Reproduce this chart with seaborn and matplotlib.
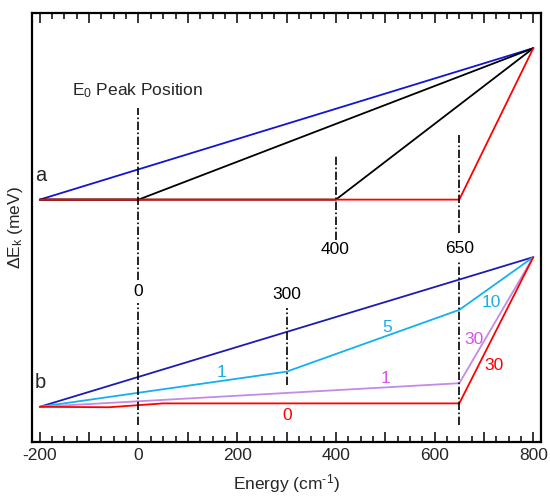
import matplotlib
matplotlib.use("Agg")
import matplotlib.pyplot as plt
import matplotlib.ticker as mticker
import seaborn as sns

# panel a: relative energy positions (arbitrary units)
a_blue_x = [-200, 800]
a_blue_y = [56.5, 91.8]
a_black1_x = [-200, 0, 800]
a_black1_y = [56.5, 56.5, 91.8]
a_black2_x = [-200, 400, 800]
a_black2_y = [56.5, 56.5, 91.8]
a_red_x = [-200, 650, 800]
a_red_y = [56.5, 56.5, 91.8]

# panel b
b_blue_x = [-200, 800]
b_blue_y = [8.2, 43.1]
b_cyan_x = [-200, 300, 650, 800]
b_cyan_y = [8.2, 16.4, 30.8, 43.1]
b_purple_x = [-200, 650, 800]
b_purple_y = [8.2, 13.7, 43.1]
b_red_x = [-200, -60, 50, 650, 800]
b_red_y = [8.2, 8.1, 9.0, 9.0, 43.1]

# vertical dash-dot markers: (x, y_start, y_end)
markers = [
    (0, 37.8, 77.9), (0, 4.0, 32.4),
    (300, 13.3, 31.2),
    (400, 47.1, 66.9),
    (650, 48.7, 71.6), (650, 4.0, 42.0),
]

# labels: (x, y, text, color)
labels = [
    (0, 35.0, "0", "black"), (300, 34.3, "300", "black"),
    (398, 44.8, "400", "black"), (650, 45.0, "650", "black"),
    (169, 16.3, "1", "#1aaee8"), (504, 26.8, "5", "#1aaee8"),
    (714, 32.6, "10", "#1aaee8"),
    (680, 23.8, "30", "#d455e6"), (500, 14.9, "1", "#d455e6"),
    (302, 6.1, "0", "#ff0000"), (720, 17.9, "30", "#ff0000"),
]
panel_labels = [(-198, 62.2, "a"), (-198, 13.8, "b")]

sns.set_style("white")
plt.rcParams["font.family"] = ["Liberation Sans", "DejaVu Sans"]
plt.rcParams["mathtext.fontset"] = "custom"
plt.rcParams["mathtext.rm"] = "Liberation Sans"
plt.rcParams["mathtext.it"] = "Liberation Sans"

fig = plt.figure(figsize=(5.5, 5), dpi=100)
ax = fig.add_axes([0.058, 0.116, 0.926, 0.858])

lw = 1.3
series = [
    (a_blue_x, a_blue_y, "#1414d2"),
    (a_black1_x, a_black1_y, "black"),
    (a_black2_x, a_black2_y, "black"),
    (a_red_x, a_red_y, "#ff0000"),
    (b_blue_x, b_blue_y, "#1c1cb4"),
    (b_cyan_x, b_cyan_y, "#14b0f0"),
    (b_purple_x, b_purple_y, "#c38ae6"),
    (b_red_x, b_red_y, "#ff0000"),
]
for xs, ys, c in series:
    sns.lineplot(x=xs, y=ys, color=c, lw=lw, sort=False, estimator=None, ax=ax)

for x, y0, y1 in markers:
    ax.plot([x, x], [y0, y1], color="black", lw=1.2, dashes=(5, 1.5, 1, 1.5))

for x, y, t, c in labels:
    ax.text(x, y, t, color=c, fontsize=12.5, ha="center", va="center")
for x, y, t in panel_labels:
    ax.text(x, y, t, fontsize=14.5, ha="center", va="center")

ax.text(-135, 82.0, r"E$_0$ Peak Position", fontsize=12.5, ha="left", va="center")

ax.set_xlim(-216, 816)
ax.set_ylim(0, 100)
ax.xaxis.set_major_locator(mticker.MultipleLocator(100))
ax.xaxis.set_minor_locator(mticker.MultipleLocator(25))
ax.xaxis.set_major_formatter(mticker.FuncFormatter(
    lambda v, p: f"{int(v)}" if int(round(v)) % 200 == 0 else ""))
ax.tick_params(axis="x", which="both", direction="in", top=True, bottom=True,
               labelsize=12.5, width=1.3, pad=4)
ax.tick_params(axis="x", which="major", length=7)
ax.tick_params(axis="x", which="minor", length=4)
ax.set_yticks([])
for s in ax.spines.values():
    s.set_linewidth(1.6)
    s.set_color("black")

ax.set_xlabel(r"Energy (cm$^{\text{-1}}$)", fontsize=12.5, labelpad=7)
ax.set_ylabel(r"$\Delta$E$_\mathrm{k}$ (meV)", fontsize=12.5, labelpad=5)

fig.savefig("out.png", dpi=100)
